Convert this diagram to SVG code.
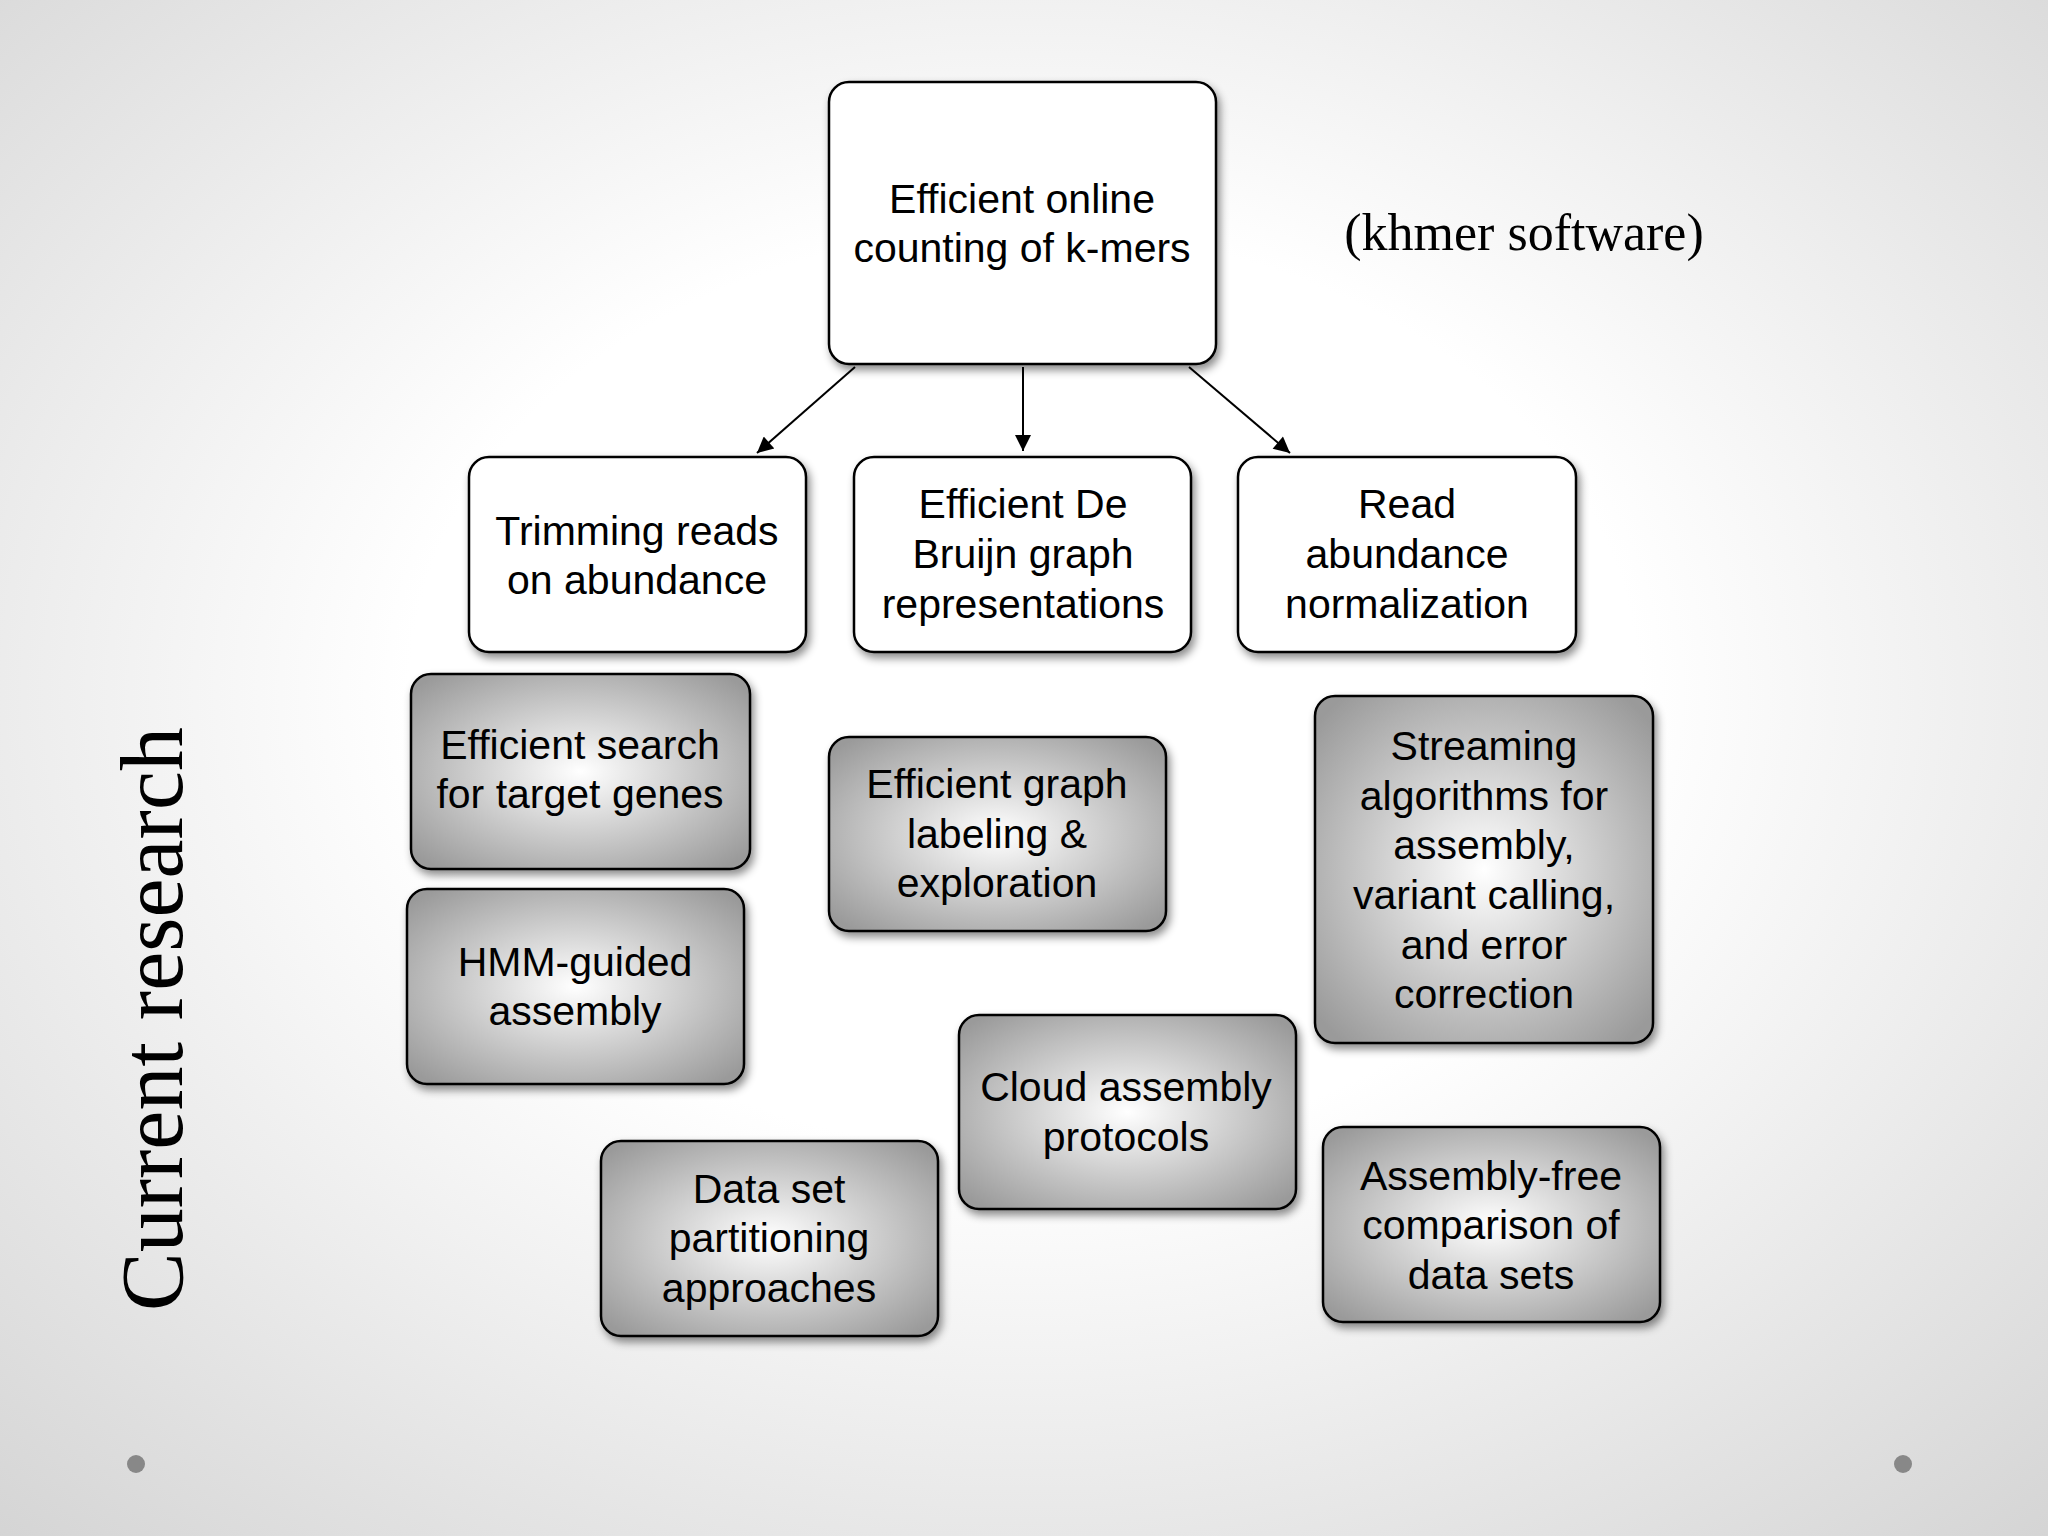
<svg xmlns="http://www.w3.org/2000/svg" width="2048" height="1536" viewBox="0 0 2048 1536">
<defs>
<radialGradient id="bg" cx="50%" cy="45%" r="75%"><stop offset="0.4" stop-color="#ffffff"/><stop offset="1" stop-color="#d4d4d4"/></radialGradient>
<radialGradient id="gb" cx="50%" cy="50%" r="65%"><stop offset="0" stop-color="#ffffff"/><stop offset="1" stop-color="#9a9a9a"/></radialGradient>
<filter id="sh" x="-10%" y="-10%" width="130%" height="130%"><feDropShadow dx="3" dy="5" stdDeviation="4" flood-color="#000" flood-opacity="0.45"/></filter>
<marker id="ah" viewBox="0 0 10 10" refX="10" refY="5" markerWidth="20" markerHeight="16" markerUnits="userSpaceOnUse" orient="auto"><path d="M0,0 L10,5 L0,10 z" fill="#000"/></marker>
<style>
.w{fill:#fff;stroke:#000;stroke-width:2.5;filter:url(#sh)}
.g{fill:url(#gb);stroke:#000;stroke-width:2.5;filter:url(#sh)}
.t{font-family:"Liberation Sans",Arial,sans-serif;font-size:41px;text-anchor:middle;fill:#000}
.c line{stroke:#000;stroke-width:2;marker-end:url(#ah)}
</style>
</defs>
<rect width="2048" height="1536" fill="url(#bg)"/>
<g id="top"><rect class="w" x="829" y="82" width="387" height="282" rx="20"/><text class="t" x="1022" y="213">Efficient online</text><text class="t" x="1022" y="262">counting of k-mers</text></g>
<g class="c"><line x1="855" y1="367" x2="757" y2="453"/><line x1="1023" y1="367" x2="1023" y2="451"/><line x1="1189" y1="367" x2="1290" y2="453"/></g>
<g id="trim"><rect class="w" x="469" y="457" width="337" height="195" rx="20"/><text class="t" x="637" y="545">Trimming reads</text><text class="t" x="637" y="594">on abundance</text></g>
<g id="debruijn"><rect class="w" x="854" y="457" width="337" height="195" rx="20"/><text class="t" x="1023" y="518">Efficient De</text><text class="t" x="1023" y="568">Bruijn graph</text><text class="t" x="1023" y="618">representations</text></g>
<g id="read"><rect class="w" x="1238" y="457" width="338" height="195" rx="20"/><text class="t" x="1407" y="518">Read</text><text class="t" x="1407" y="568">abundance</text><text class="t" x="1407" y="618">normalization</text></g>
<g id="search"><rect class="g" x="411" y="674" width="339" height="195" rx="20"/><text class="t" x="580" y="759">Efficient search</text><text class="t" x="580" y="808">for target genes</text></g>
<g id="hmm"><rect class="g" x="407" y="889" width="337" height="195" rx="20"/><text class="t" x="575" y="976">HMM-guided</text><text class="t" x="575" y="1025">assembly</text></g>
<g id="graph"><rect class="g" x="829" y="737" width="337" height="194" rx="20"/><text class="t" x="997" y="798">Efficient graph</text><text class="t" x="997" y="848">labeling &amp;</text><text class="t" x="997" y="897">exploration</text></g>
<g id="stream"><rect class="g" x="1315" y="696" width="338" height="347" rx="20"/><text class="t" x="1484" y="760">Streaming</text><text class="t" x="1484" y="810">algorithms for</text><text class="t" x="1484" y="859">assembly,</text><text class="t" x="1484" y="909">variant calling,</text><text class="t" x="1484" y="959">and error</text><text class="t" x="1484" y="1008">correction</text></g>
<g id="cloud"><rect class="g" x="959" y="1015" width="337" height="194" rx="20"/><text class="t" x="1126" y="1101">Cloud assembly</text><text class="t" x="1126" y="1151">protocols</text></g>
<g id="dataset"><rect class="g" x="601" y="1141" width="337" height="195" rx="20"/><text class="t" x="769" y="1203">Data set</text><text class="t" x="769" y="1252">partitioning</text><text class="t" x="769" y="1302">approaches</text></g>
<g id="asmfree"><rect class="g" x="1323" y="1127" width="337" height="195" rx="20"/><text class="t" x="1491" y="1190">Assembly-free</text><text class="t" x="1491" y="1239">comparison of</text><text class="t" x="1491" y="1289">data sets</text></g>
<text x="1524" y="250" font-family="'Liberation Serif','Times New Roman',serif" font-size="52" text-anchor="middle">(khmer software)</text>
<text transform="translate(182,1019) rotate(-90)" font-family="'Liberation Serif','Times New Roman',serif" font-size="88" text-anchor="middle">Current research</text>
<circle cx="136" cy="1464" r="9" fill="#888"/><circle cx="1903" cy="1464" r="9" fill="#888"/>
</svg>
